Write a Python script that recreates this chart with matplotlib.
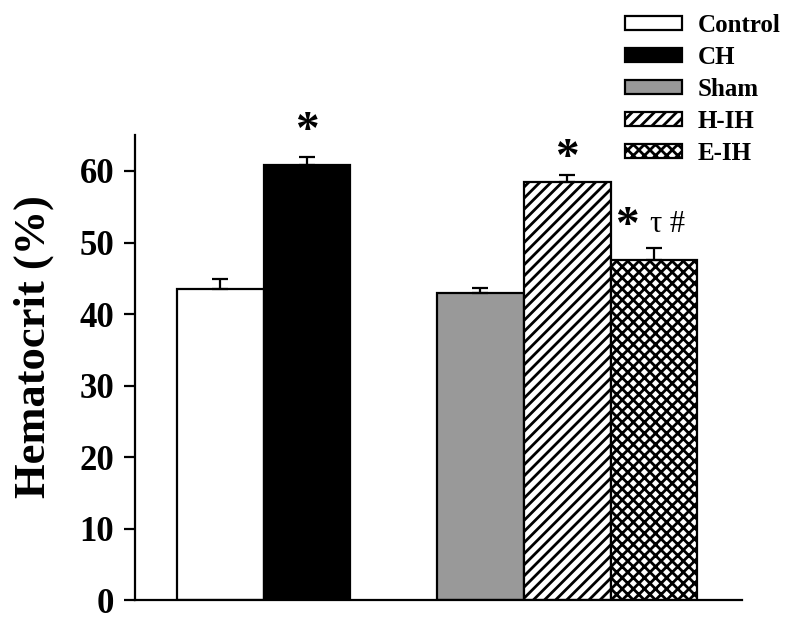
import matplotlib
matplotlib.use("Agg")
import matplotlib.pyplot as plt

# datos
groups = ["Control", "CH", "Sham", "H-IH", "E-IH"]
hematocrit = [43.5, 60.8, 42.9, 58.5, 47.6]
sem = [1.4, 1.2, 0.8, 1.0, 1.7]
positions = [0, 1, 3, 4, 5]
marks = ["", "*", "", "*", "* \u03c4 #"]

colors = ["white", "black", "#999999", "white", "white"]
hatches = [None, None, None, "///", "xxx"]
# desplazamiento vertical de la marca sobre la barra de error
mark_gap = [0, 3.5, 0, 2.2, 2.8]

plt.rcParams["font.family"] = ["Liberation Serif", "DejaVu Serif"]
plt.rcParams["font.weight"] = "bold"
plt.rcParams["hatch.linewidth"] = 2.0

fig = plt.figure(figsize=(8, 6.29), dpi=100)
ax = fig.add_axes([0.169, 0.046, 0.759, 0.739])

for x, h, e, c, ht, g in zip(positions, hematocrit, sem, colors, hatches, groups):
    ax.bar(x, h, width=1.0, color=c, edgecolor="black", linewidth=1.6,
           hatch=ht, label=g, zorder=2)
    ax.errorbar(x, h, yerr=[[0], [e]], fmt="none", ecolor="black",
                elinewidth=1.6, capsize=6, capthick=1.6, zorder=3)

# marcas de significancia
for x, h, e, m, gap in zip(positions, hematocrit, sem, marks, mark_gap):
    if not m:
        continue
    if m == "*":
        ax.text(x, h + e + gap, "*", ha="center", va="center", fontsize=34)
    else:
        ax.text(x - 0.31, h + e + gap, "*", ha="center", va="center", fontsize=34)
        ax.text(x + 0.16, h + e + gap + 0.4, "\u03c4 #", ha="center", va="center",
                fontsize=22, fontweight="normal")

ax.set_xlim(-0.98, 6.02)
ax.set_ylim(0, 65)
ax.set_yticks([0, 10, 20, 30, 40, 50, 60])
ax.set_xticks([])
ax.tick_params(axis="y", labelsize=25, width=1.6, length=8, pad=7)
for lbl in ax.get_yticklabels():
    lbl.set_fontweight("bold")
ax.set_ylabel("Hematocrit (%)", fontsize=32, fontweight="bold")
ax.yaxis.set_label_coords(-0.134, 0.546)

ax.spines["top"].set_visible(False)
ax.spines["right"].set_visible(False)
ax.spines["left"].set_linewidth(1.6)
ax.spines["bottom"].set_linewidth(1.6)

leg = fig.legend(loc="upper left", bbox_to_anchor=(0.781, 0.978), frameon=False,
                 handlelength=2.3, handleheight=0.5, borderpad=0, borderaxespad=0,
                 labelspacing=0.36, handletextpad=0.6,
                 prop={"weight": "bold", "size": 18})

fig.savefig("out.png", dpi=100)
